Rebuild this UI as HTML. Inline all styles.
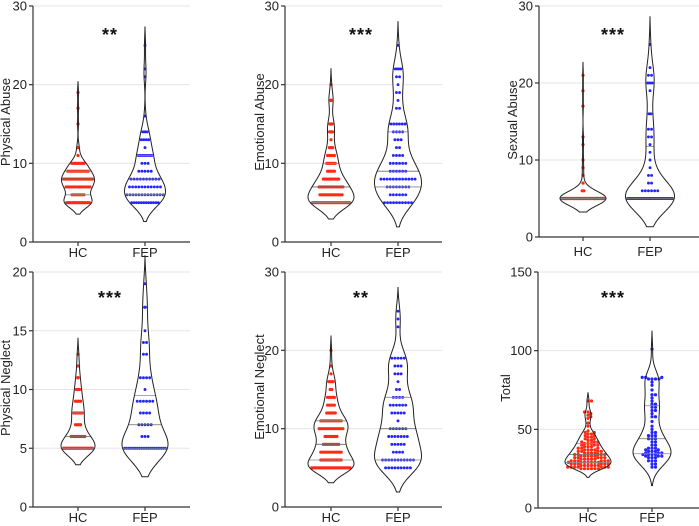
<!DOCTYPE html>
<html><head><meta charset="utf-8"><style>
html,body{margin:0;padding:0;background:#fff;}
svg{display:block;font-family:"Liberation Sans",Arial,sans-serif;}
</style></head><body>
<svg id="chart" width="699" height="526" viewBox="0 0 699 526" xmlns="http://www.w3.org/2000/svg"></svg>
<script>
// ---- data ----
const GROUPS = ["HC","FEP"];
const TICKS_30 = [0,10,20,30];
const TICKS_20 = [0,5,10,15,20];
const TICKS_150 = [0,50,100,150];

const PA_HC_V = [5,6,7,8,9,10,11,12,15,17,19];
const PA_HC_N = [22,8,15,19,13,9,1,2,1,1,1];
const PA_FEP_V = [5,6,7,8,9,10,11,12,13,14,16,21,22,25];
const PA_FEP_N = [12,13,11,10,5,3,8,1,4,3,1,1,1,1];

const EA_HC_V = [5,6,7,8,9,10,11,12,13,14,15,18,20];
const EA_HC_N = [28,14,15,10,5,6,5,3,1,3,4,4,1];
const EA_FEP_V = [5,6,7,8,9,10,11,12,13,14,15,17,18,19,20,21,22,25];
const EA_FEP_N = [10,6,8,12,6,6,4,2,3,4,6,2,1,2,1,2,4,1];

const SA_HC_V = [5,6,7,8,9,10,12,13,17,19,21];
const SA_HC_N = [70,2,1,1,1,1,1,1,1,1,1];
const SA_FEP_V = [5,6,7,8,9,10,11,12,13,14,16,19,20,21,22,25];
const SA_FEP_N = [30,6,2,2,1,1,1,1,2,2,2,1,3,2,1,1];

const PN_HC_V = [5,6,7,8,9,10,11,12,13];
const PN_HC_N = [21,9,4,6,4,3,2,1,1];
const PN_FEP_V = [5,6,7,8,9,10,11,13,14,15,17,19];
const PN_FEP_N = [20,3,5,4,6,1,4,2,2,1,2,1];

const EN_HC_V = [5,6,7,8,9,10,11,12,13,14,15,16,17,18,20];
const EN_HC_N = [28,13,13,10,8,15,13,6,5,5,2,5,1,1,1];
const EN_FEP_V = [5,6,7,8,9,10,11,12,13,14,15,16,17,18,19,23,24,25];
const EN_FEP_N = [9,11,4,5,7,6,1,5,6,4,2,1,3,3,5,1,1,1];

const TOT_HC_V = [25,26,27,28,29,30,31,32,33,34,35,36,37,38,39,40,41,42,43,44,45,46,47,48,49,52,54,57,58,59,60,61,68];
const TOT_HC_N = [6,7,6,6,7,6,5,5,5,5,4,4,4,3,3,3,3,3,2,2,2,2,2,2,1,1,1,1,1,1,1,2,2];
const TOT_FEP_V = [26,28,30,32,33,34,35,36,37,38,40,42,44,46,48,50,52,55,58,60,62,64,66,68,70,72,75,78,80,82,83,101];
const TOT_FEP_N = [2,2,3,3,3,4,3,3,2,3,2,2,3,3,2,1,1,1,2,1,2,2,2,1,1,2,1,1,1,4,3,1];

const STARS = ["**","***","***","***","**","***"];
const TITLES = ["Physical Abuse","Emotional Abuse","Sexual Abuse","Physical Neglect","Emotional Neglect","Total"];

// ---- layout ----
const panels = [
 {key:'physical-abuse', hc:[PA_HC_V,PA_HC_N], fep:[PA_FEP_V,PA_FEP_N], ticks:TICKS_30, ax:33, right:190, yb:242, yt:6, hcx:78, fx:145, hwH:16.5, hwF:20.5, sx:110, sy:41, lx:10, ly:122, xl:257, swarm:false},
 {key:'emotional-abuse', hc:[EA_HC_V,EA_HC_N], fep:[EA_FEP_V,EA_FEP_N], ticks:TICKS_30, ax:285, right:442, yb:242, yt:6, hcx:331, fx:398, hwH:23, hwF:23.5, sx:361, sy:41, lx:264, ly:122, xl:257, swarm:false},
 {key:'sexual-abuse', hc:[SA_HC_V,SA_HC_N], fep:[SA_FEP_V,SA_FEP_N], ticks:TICKS_30, ax:539, right:699, yb:237, yt:6, hcx:583, fx:650, hwH:23, hwF:24.5, sx:613, sy:41, lx:517, ly:120, xl:256, swarm:false},
 {key:'physical-neglect', hc:[PN_HC_V,PN_HC_N], fep:[PN_FEP_V,PN_FEP_N], ticks:TICKS_20, ax:33, right:190, yb:507, yt:272, hcx:78, fx:145, hwH:17, hwF:23, sx:110, sy:304, lx:10, ly:388, xl:522, swarm:false},
 {key:'emotional-neglect', hc:[EN_HC_V,EN_HC_N], fep:[EN_FEP_V,EN_FEP_N], ticks:TICKS_30, ax:285, right:442, yb:507, yt:272, hcx:331, fx:398, hwH:23, hwF:23.5, sx:361, sy:304, lx:264, ly:387, xl:522, swarm:false},
 {key:'total', hc:[TOT_HC_V,TOT_HC_N], fep:[TOT_FEP_V,TOT_FEP_N], ticks:TICKS_150, ax:538, right:699, yb:508, yt:272, hcx:588, fx:652, hwH:23, hwF:19, sx:613, sy:304, lx:510, ly:388, xl:522, swarm:true}
];

const NS = "http://www.w3.org/2000/svg";
const svg = document.getElementById('chart');
function mk(tag, attrs, parent){
  const e = document.createElementNS(NS, tag);
  for (const k in attrs) e.setAttribute(k, attrs[k]);
  (parent||svg).appendChild(e);
  return e;
}
function expand(v,n){const a=[];for(let i=0;i<v.length;i++)for(let j=0;j<n[i];j++)a.push(v[i]);return a.sort((x,y)=>x-y);}
function pct(a,p){const i=(a.length-1)*p;const lo=Math.floor(i),hi=Math.ceil(i);return a[lo]+(a[hi]-a[lo])*(i-lo);}

panels.forEach((P,pi)=>{
  const g = mk('g',{});
  
  
  const vmax = P.ticks[P.ticks.length-1];
  const Y = v => P.yb + (P.yt-P.yb)*v/vmax;

  P.ticks.forEach(t=>{
    if(t===0) return;
    const gl = mk('line',{x1:P.ax,x2:P.right,y1:Y(t),y2:Y(t),stroke:'#e6e6e6','stroke-width':1},g);
    
    
  });

  [[P.hc,P.hcx,P.hwH,'#ff2a14',1.7,1.6,'hc'],[P.fep,P.fx,P.hwF,'#2424ff',3.1,1.45,'fep']].forEach(([d,cx,hw,col,sp,r,gname])=>{
    const data = expand(d[0],d[1]);
    const n = data.length;
    const mean = data.reduce((a,b)=>a+b,0)/n;
    const sd = Math.sqrt(data.reduce((a,b)=>a+(b-mean)*(b-mean),0)/(n-1));
    const bw = 0.75*sd*Math.pow(n,-0.2);
    const lo = data[0]-1.9*bw, hi = data[n-1]+1.9*bw;
    const dens = v => data.reduce((s,x)=>s+Math.exp(-0.5*((v-x)/bw)**2),0);
    const S=160, pts=[]; let mx=0;
    for(let i=0;i<=S;i++){const v=lo+(hi-lo)*i/S;const dd=dens(v);pts.push([v,dd]);if(dd>mx)mx=dd;}
    const thr = Math.min(pts[0][1], pts[S][1]);
    const W = v => Math.max(0,(dens(v)-thr)/(mx-thr))*hw;
    let path='';
    pts.forEach((p,i)=>{const w=Math.max(0,(p[1]-thr)/(mx-thr))*hw;path+=(i?'L':'M')+(cx+w).toFixed(2)+','+Y(p[0]).toFixed(2);});
    for(let i=pts.length-1;i>=0;i--){const p=pts[i];const w=Math.max(0,(p[1]-thr)/(mx-thr))*hw;path+='L'+(cx-w).toFixed(2)+','+Y(p[0]).toFixed(2);}
    path+='Z';
    const vg = mk('g',{},g);
    
    
    mk('path',{d:path,fill:'#fff',stroke:'none'},vg);

    if(!P.swarm){
      d[0].forEach((v,i)=>{
        const cnt=d[1][i];
        const maxW = Math.max(0, 2*W(v)-2*r-1);
        let s = sp;
        if((cnt-1)*s > maxW) s = cnt>1 ? maxW/(cnt-1) : 0;
        for(let j=0;j<cnt;j++){
          const x = cx + (j-(cnt-1)/2)*s;
          const c = mk('circle',{cx:x.toFixed(2),cy:Y(v).toFixed(2),r:r,fill:col},vg);
          
          
        }
      });
    } else {
      const placed=[]; const D=2.9;
      data.forEach(v=>{
        const y=Y(v);
        for(let k=0;k<200;k++){
          const off = (k%2?1:-1)*Math.ceil(k/2)*0.7;
          const x=cx+off;
          if(placed.every(p=>(p[0]-x)**2+(p[1]-y)**2>=D*D)){placed.push([x,y]);break;}
        }
      });
      placed.forEach(p=>{
        const c = mk('circle',{cx:p[0].toFixed(2),cy:p[1].toFixed(2),r:1.6,fill:col},vg);
        
        
      });
    }
    [[0.25,'#8a8a8a'],[0.5,'#6a6a6a'],[0.75,'#8a8a8a']].forEach(([p,lc])=>{
      const q=pct(data,p); const w=W(q);
      const l = mk('line',{x1:cx-w,x2:cx+w,y1:Y(q),y2:Y(q),stroke:lc,'stroke-width':0.8},vg);
      
      
    });
    const o = mk('path',{d:path,fill:'none',stroke:'#222','stroke-width':1},vg);
    
    
  });

  const ya = mk('line',{x1:P.ax,x2:P.ax,y1:P.yt,y2:P.yb,stroke:'#333','stroke-width':1.2},g);
  
  
  const xa = mk('line',{x1:P.ax,x2:P.right,y1:P.yb,y2:P.yb,stroke:'#333','stroke-width':1.2},g);
  
  
  P.ticks.forEach(t=>{
    mk('line',{x1:P.ax-4,x2:P.ax,y1:Y(t),y2:Y(t),stroke:'#333','stroke-width':1.2},g);
    const tl = mk('text',{x:P.ax-6,y:Y(t)+4.5,'text-anchor':'end','font-size':13,fill:'#222'},g);
    tl.textContent = t;
    
    
  });
  [[P.hcx,GROUPS[0]],[P.fx,GROUPS[1]]].forEach(([x,lab])=>{
    mk('line',{x1:x,x2:x,y1:P.yb,y2:P.yb+4,stroke:'#333','stroke-width':1.2},g);
    const xl = mk('text',{x:x,y:P.xl,'text-anchor':'middle','font-size':13,fill:'#222'},g);
    xl.textContent = lab;
    
    
  });
  const yt = mk('text',{x:P.lx,y:P.ly,'text-anchor':'middle','font-size':13,fill:'#222',transform:`rotate(-90 ${P.lx} ${P.ly})`},g);
  yt.textContent = TITLES[pi];
  
  
  const st = mk('text',{x:P.sx,y:P.sy,'text-anchor':'middle','font-size':18,'font-weight':'bold',fill:'#111','letter-spacing':'1'},g);
  st.textContent = STARS[pi];
  
  
});
</script>
</body></html>
